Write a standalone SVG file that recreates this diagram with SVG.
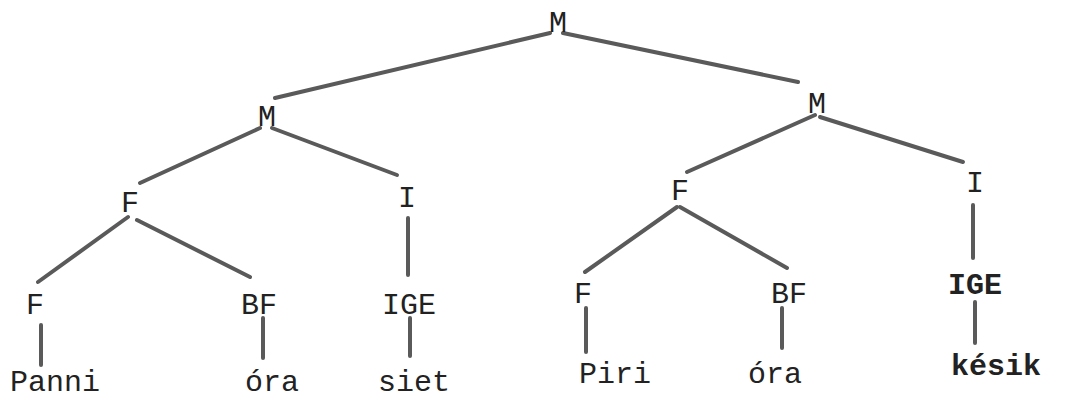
<svg xmlns="http://www.w3.org/2000/svg" width="1074" height="400" viewBox="0 0 1074 400">
<style>
.t{font-family:"Liberation Mono","DejaVu Sans Mono",monospace;font-size:30px;fill:#222;text-anchor:middle}
.b{font-weight:bold}
.e{stroke:#5a5a5a;stroke-width:4;stroke-linecap:round;fill:none}
</style>
<rect width="1074" height="400" fill="#fff"/>
<g id="connectors" class="e">
<line x1="550" y1="33" x2="275" y2="98"/>
<line x1="563" y1="33" x2="798" y2="82"/>
<line x1="260" y1="128" x2="140" y2="183"/>
<line x1="272" y1="128" x2="397" y2="175"/>
<line x1="815" y1="115" x2="687" y2="172"/>
<line x1="820" y1="117" x2="963" y2="162"/>
<line x1="128" y1="217" x2="38" y2="282"/>
<line x1="137" y1="220" x2="250" y2="277"/>
<line x1="408" y1="218" x2="408" y2="275"/>
<line x1="677" y1="207" x2="585" y2="272"/>
<line x1="680" y1="207" x2="787" y2="268"/>
<line x1="973" y1="205" x2="973" y2="258"/>
<line x1="41" y1="325" x2="41" y2="365"/>
<line x1="263" y1="318" x2="263" y2="358"/>
<line x1="410" y1="318" x2="410" y2="356"/>
<line x1="586" y1="308" x2="586" y2="352"/>
<line x1="782" y1="308" x2="782" y2="348"/>
<line x1="975" y1="302" x2="975" y2="343"/>
</g>
<g id="n-root"><text class="t" x="558" y="32">M</text></g>
<g id="n-m-left"><text class="t" x="267" y="126">M</text></g>
<g id="n-m-right"><text class="t" x="817" y="113">M</text></g>
<g id="n-f-left"><text class="t" x="130" y="212">F</text></g>
<g id="n-i-left"><text class="t" x="407" y="207">I</text></g>
<g id="n-f-right"><text class="t" x="680" y="200">F</text></g>
<g id="n-i-right"><text class="t" x="975" y="192">I</text></g>
<g id="n-f-ll"><text class="t" x="35" y="314">F</text></g>
<g id="n-bf-l"><text class="t" x="259" y="314">BF</text></g>
<g id="n-ige-l"><text class="t" x="409" y="314">IGE</text></g>
<g id="n-f-rl"><text class="t" x="583" y="303">F</text></g>
<g id="n-bf-r"><text class="t" x="789" y="303">BF</text></g>
<g id="n-ige-r"><text class="t b" x="975" y="294">IGE</text></g>
<g id="n-panni"><text class="t" x="55" y="391">Panni</text></g>
<g id="n-ora-l"><text class="t" x="272" y="391">óra</text></g>
<g id="n-siet"><text class="t" x="414" y="391">siet</text></g>
<g id="n-piri"><text class="t" x="615" y="383">Piri</text></g>
<g id="n-ora-r"><text class="t" x="775" y="383">óra</text></g>
<g id="n-kesik"><text class="t b" x="996" y="375">késik</text></g>
</svg>
